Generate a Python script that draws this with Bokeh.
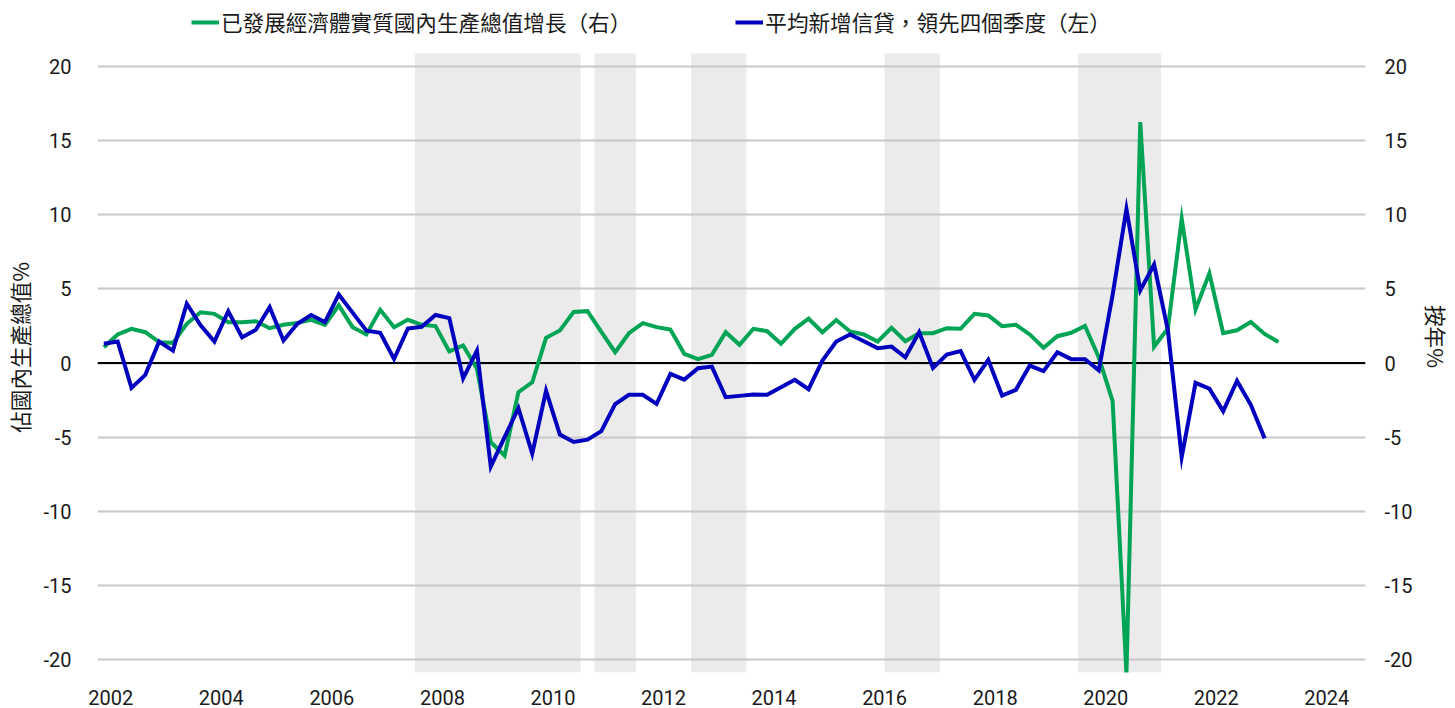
from bokeh.plotting import figure
from bokeh.models import (Range1d, LinearAxis, FixedTicker, Span, Legend,
                          LegendItem, ColumnDataSource, CustomJSTickFormatter)
from bokeh.embed import file_html
from bokeh.resources import INLINE

# ---------------- data ----------------
start_year, start_quarter = 2001, 4   # first observation: 2001 Q4

# 已發展經濟體實質國內生產總值增長 (right axis, % y/y), 2001Q4 .. 2023Q1
gdp_growth = [
    1.07, 1.93, 2.31, 2.08, 1.41, 1.36, 2.65, 3.43, 3.32, 2.76,
    2.76, 2.82, 2.35, 2.58, 2.71, 2.92, 2.58, 3.89, 2.42, 1.93,
    3.59, 2.42, 2.92, 2.58, 2.49, 0.78, 1.18, -0.39, -5.35, -6.25,
    -1.97, -1.30, 1.70, 2.20, 3.45, 3.50, 2.10, 0.73, 2.01, 2.69,
    2.42, 2.26, 0.62, 0.26, 0.55, 2.08, 1.23, 2.31, 2.15, 1.30,
    2.31, 2.99, 2.08, 2.90, 2.13, 1.93, 1.45, 2.38, 1.47, 2.01,
    2.01, 2.35, 2.31, 3.32, 3.21, 2.49, 2.58, 1.93, 1.03, 1.81,
    2.04, 2.50, 0.37, -2.58, -21.0, 16.27, 1.10, 2.33, 9.74, 3.61,
    6.06, 2.01, 2.21, 2.77, 1.96, 1.42,
]

# 平均新增信貸，領先四個季度 (left axis, % of GDP), 2001Q4 .. 2022Q4
credit_impulse = [
    1.30, 1.45, -1.68, -0.80, 1.45, 0.84, 4.00, 2.55, 1.45, 3.50,
    1.74, 2.24, 3.77, 1.52, 2.65, 3.24, 2.76, 4.63, 3.40, 2.18,
    2.04, 0.27, 2.33, 2.45, 3.24, 3.03, -1.04, 0.84, -7.00, -5.00,
    -3.05, -6.12, -1.88, -4.83, -5.33, -5.18, -4.60, -2.78, -2.15, -2.15,
    -2.76, -0.73, -1.12, -0.35, -0.24, -2.31, -2.22, -2.13, -2.15, -1.63,
    -1.13, -1.77, 0.17, 1.45, 1.93, 1.47, 1.00, 1.11, 0.39, 2.08,
    -0.33, 0.57, 0.80, -1.14, 0.21, -2.20, -1.81, -0.17, -0.55, 0.73,
    0.26, 0.25, -0.49, 4.60, 10.40, 4.90, 6.65, 2.20, -6.35, -1.34,
    -1.73, -3.25, -1.21, -2.82, -5.09,
]

# shaded periods (fractional years)
shade_start = [2007.5, 2010.75, 2012.5, 2016.0, 2019.5]
shade_end = [2010.5, 2011.5, 2013.5, 2017.0, 2021.0]

x_ticks = [2002, 2004, 2006, 2008, 2010, 2012, 2014, 2016, 2018, 2020, 2022, 2024]
y_ticks = [-20, -15, -10, -5, 0, 5, 10, 15, 20]

label_gdp = "已發展經濟體實質國內生產總值增長（右）"
label_credit = "平均新增信貸，領先四個季度（左）"
left_title = "佔國內生產總值%"
right_title = "按年%"


def quarter_x(i):
    k = start_quarter - 1 + i
    return start_year + k // 4 + (k % 4) / 4 + 0.125


gdp_x = [quarter_x(i) for i in range(len(gdp_growth))]
credit_x = [quarter_x(i) for i in range(len(credit_impulse))]

# ---------------- style ----------------
GREEN = "#00A455"
BLUE = "#0000BE"
SHADE = "#EBEBEB"
GRID = "#C8C8CD"
CJK = "Noto Sans CJK TC"
NUM = "Roboto"
TXT = "#1A1A1A"
CJK_SIZE = "21.6px"

Y_LO, Y_SHADE_TOP, Y_HI = -20.9, 20.9, 24.48   # top part of frame holds the legend

p = figure(width=1455, height=708, output_backend="svg", toolbar_location=None,
           x_range=Range1d(2001.76, 2024.7), y_range=Range1d(Y_LO, Y_HI),
           min_border_left=97, min_border_right=90, min_border_top=0,
           min_border_bottom=36, outline_line_color=None,
           background_fill_color="white", border_fill_color="white")
p.extra_y_ranges = {"right": Range1d(Y_LO, Y_HI)}

# shading
shade_src = ColumnDataSource(dict(left=shade_start, right=shade_end,
                                  top=[Y_SHADE_TOP] * len(shade_start),
                                  bottom=[Y_LO] * len(shade_start)))
p.quad(left="left", right="right", top="top", bottom="bottom", source=shade_src,
       fill_color=SHADE, line_color=None, level="image")

# grid
p.xgrid.visible = False
p.ygrid.ticker = FixedTicker(ticks=y_ticks)
p.ygrid.grid_line_color = GRID
p.ygrid.grid_line_width = 2

p.add_layout(Span(location=0, dimension="width", line_color="black",
                  line_width=2, level="underlay"))

# lines
g = p.line(gdp_x, gdp_growth, line_color=GREEN, line_width=4, line_join="miter")
b = p.line(credit_x, credit_impulse, line_color=BLUE, line_width=4, line_join="miter")


def style_axis(ax):
    ax.axis_line_color = None
    ax.major_tick_line_color = None
    ax.minor_tick_line_color = None
    ax.major_label_text_font = NUM
    ax.major_label_text_font_size = "20px"
    ax.major_label_text_color = TXT
    ax.axis_label_text_font = CJK
    ax.axis_label_text_font_size = CJK_SIZE
    ax.axis_label_text_font_style = "normal"
    ax.axis_label_text_color = TXT


# x axis
xa = p.xaxis[0]
style_axis(xa)
xa.ticker = FixedTicker(ticks=x_ticks)
xa.major_label_standoff = 11

# left axis
ya = p.yaxis[0]
style_axis(ya)
ya.ticker = FixedTicker(ticks=y_ticks)
ya.formatter = CustomJSTickFormatter(code="return String(tick);")
ya.major_label_standoff = 20
ya.axis_label = left_title + "\u3000"
ya.axis_label_standoff = 5

# right axis
yr = LinearAxis(y_range_name="right", ticker=FixedTicker(ticks=y_ticks),
                formatter=CustomJSTickFormatter(code="return String(tick);"))
style_axis(yr)
yr.major_label_standoff = 13
yr.axis_label = right_title
yr.axis_label_standoff = 5
p.add_layout(yr, "right")

# legend (inside the upper, unshaded strip of the frame)
legend = Legend(items=[LegendItem(label=label_gdp, renderers=[g]),
                       LegendItem(label=label_credit, renderers=[b])],
                orientation="horizontal", location=(94, 635),
                padding=0, margin=0, spacing=104, glyph_width=28,
                glyph_height=22, label_standoff=2,
                label_text_font=CJK, label_text_font_size=CJK_SIZE,
                label_text_color=TXT,
                background_fill_alpha=0, border_line_alpha=0)
p.add_layout(legend, "center")

open("out.html", "w").write(file_html(p, INLINE))
